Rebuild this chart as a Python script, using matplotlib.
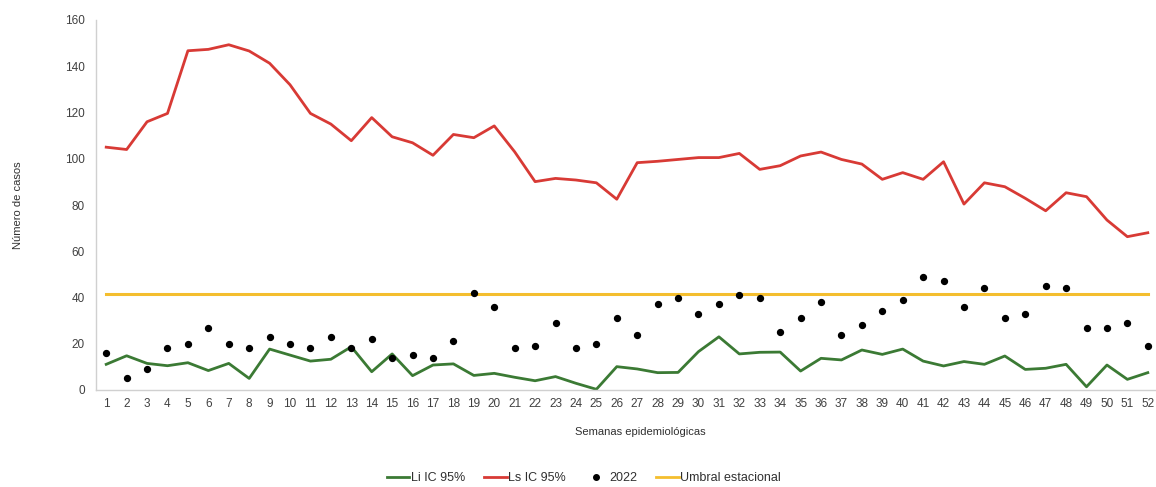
import matplotlib
matplotlib.use("Agg")
import matplotlib.pyplot as plt
from matplotlib.lines import Line2D

plt.rcParams['font.family'] = ['Liberation Sans', 'DejaVu Sans']

weeks = list(range(1, 53))

li_ic95 = [11.1, 14.8, 11.5, 10.5, 11.8, 8.4, 11.5, 5.0, 17.7, 15.1,
           12.5, 13.3, 18.7, 7.9, 15.6, 6.2, 10.8, 11.3, 6.3, 7.2,
           5.5, 4.0, 5.8, 2.9, 0.3, 10.1, 9.1, 7.5, 7.6, 16.6,
           23.0, 15.6, 16.3, 16.4, 8.2, 13.7, 13.0, 17.3, 15.4, 17.7,
           12.5, 10.4, 12.3, 11.1, 14.7, 8.9, 9.4, 11.1, 1.4, 10.8,
           4.6, 7.5]

ls_ic95 = [105, 104, 116, 119.6, 146.7, 147.3, 149.3, 146.6, 141.3, 132,
           119.6, 115, 107.8, 117.8, 109.5, 106.9, 101.5, 110.5, 109.1, 114.2,
           103, 90.1, 91.5, 90.8, 89.6, 82.5, 98.3, 98.9, 99.7, 100.5,
           100.5, 102.3, 95.4, 97, 101.2, 102.9, 99.7, 97.7, 91.1, 94,
           91.1, 98.7, 80.4, 89.6, 87.9, 82.9, 77.5, 85.3, 83.6, 73.5,
           66.3, 68]

cases_2022 = [16, 5, 9, 18, 20, 27, 20, 18, 23, 20,
              18, 23, 18, 22, 14, 15, 14, 21, 42, 36,
              18, 19, 29, 18, 20, 31, 24, 37, 40, 33,
              37, 41, 40, 25, 31, 38, 24, 28, 34, 39,
              49, 47, 36, 44, 31, 33, 45, 44, 27, 27,
              29, 19]

umbral = [41.4] * 52

yticks = [0, 20, 40, 60, 80, 100, 120, 140, 160]

c_green = '#3B7A34'
c_red = '#D83A35'
c_yellow = '#F4BE2E'

fig = plt.figure(figsize=(11.56, 4.87), dpi=100)
ax = fig.add_axes([96/1156, 97/487, 1062/1156, 370/487])

ax.plot(weeks, li_ic95, color=c_green, lw=2.0, label='Li IC 95%')
ax.plot(weeks, ls_ic95, color=c_red, lw=2.0, label='Ls IC 95%')
ax.scatter(weeks, cases_2022, color='black', s=18, zorder=4, label='2022')
ax.plot(weeks, umbral, color=c_yellow, lw=2.2, label='Umbral estacional')

ax.set_xlim(0.5, 52.5)
ax.set_ylim(0, 160)
ax.set_xticks(weeks)
ax.set_xticklabels([str(w) for w in weeks])
ax.set_yticks(yticks)
ax.tick_params(axis='both', length=0, labelsize=8.5, colors='#404040')
ax.tick_params(axis='x', pad=6)
ax.tick_params(axis='y', pad=8)

for s in ['top', 'right']:
    ax.spines[s].set_visible(False)
for s in ['left', 'bottom']:
    ax.spines[s].set_color('#D0D0D0')
    ax.spines[s].set_linewidth(1.0)

fig.text(18/1156, 1 - 205/487, 'Número de casos', rotation=90,
         ha='center', va='center', fontsize=8, color='#303030')
fig.text(640/1156, 1 - 432/487, 'Semanas epidemiológicas',
         ha='center', va='center', fontsize=8, color='#303030')

handles = [
    Line2D([0], [0], color=c_green, lw=2),
    Line2D([0], [0], color=c_red, lw=2),
    Line2D([0], [0], color='black', marker='o', ms=4, lw=0),
    Line2D([0], [0], color=c_yellow, lw=2),
]
labels = ['Li IC 95%', 'Ls IC 95%', '2022', 'Umbral estacional']
fig.legend(handles, labels, loc='center', bbox_to_anchor=(584/1156, 1 - 478/487),
           ncol=4, frameon=False, fontsize=9, handlelength=1.8,
           columnspacing=1.5, handletextpad=0.15, labelcolor='#303030')

fig.savefig('out.png', dpi=100)
